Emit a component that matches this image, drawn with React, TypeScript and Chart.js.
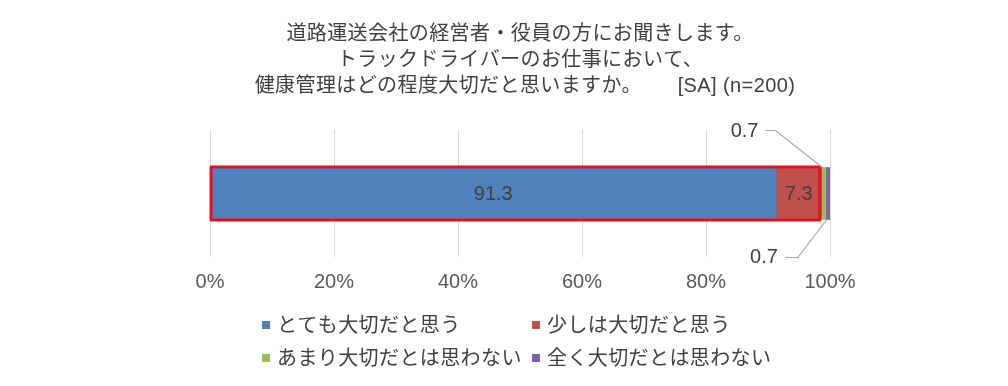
import React, { useEffect, useRef } from "react";
import { Chart, registerables } from "chart.js";

Chart.register(...registerables);

const categories = ["健康管理"];
const seriesLabels = [
  "とても大切だと思う",
  "少しは大切だと思う",
  "あまり大切だとは思わない",
  "全く大切だとは思わない",
];
const seriesValues = [91.3, 7.3, 0.7, 0.7];
const seriesColors = ["#4F81BD", "#C0504D", "#9BBB59", "#8064A2"];
const tickValues = [0, 20, 40, 60, 80, 100];
const titleLines = [
  "道路運送会社の経営者・役員の方にお聞きします。",
  "トラックドライバーのお仕事において、",
  "健康管理はどの程度大切だと思いますか。      [SA] (n=200)",
];

const FONT = '"Liberation Sans", "Noto Sans CJK JP", sans-serif';
const TEXT = "#404040";

const decorPlugin = {
  id: "decor",
  afterDatasetsDraw(chart: any) {
    const ctx = chart.ctx as CanvasRenderingContext2D;
    const metas = seriesValues.map((_, i) => chart.getDatasetMeta(i).data[0].getProps(["x", "y", "base", "height"], true));
    ctx.save();
    // red highlight around first two segments
    const m0 = metas[0];
    const m1 = metas[1];
    const top = m0.y - m0.height / 2;
    const h = m0.height;
    ctx.strokeStyle = "#E8101A";
    ctx.lineWidth = 3;
    ctx.lineJoin = "round";
    ctx.strokeRect(Math.min(m0.base, m0.x) + 0.5, top - 0.5, m1.x - Math.min(m0.base, m0.x) - 2, h + 1);

    // inside labels
    ctx.fillStyle = TEXT;
    ctx.font = `20px ${FONT}`;
    ctx.textAlign = "center";
    ctx.textBaseline = "middle";
    [0, 1].forEach((i) => {
      const m = metas[i];
      ctx.fillText(seriesValues[i].toFixed(1), (m.x + m.base) / 2, m.y + 1);
    });

    // callouts
    ctx.strokeStyle = "#A6A6A6";
    ctx.lineWidth = 1.2;
    ctx.lineJoin = "miter";
    const g = metas[2];
    const gx = (g.x + g.base) / 2;
    const gTop = g.y - g.height / 2;
    ctx.beginPath();
    ctx.moveTo(gx - 1, gTop);
    ctx.lineTo(gx - 48, gTop - 37);
    ctx.lineTo(gx - 58, gTop - 37);
    ctx.stroke();
    ctx.textAlign = "right";
    ctx.fillText(seriesValues[2].toFixed(1), gx - 65, gTop - 36);

    const p = metas[3];
    const px = (p.x + p.base) / 2;
    const pBot = p.y + p.height / 2;
    ctx.beginPath();
    ctx.moveTo(px - 1, pBot);
    ctx.lineTo(px - 30, pBot + 38);
    ctx.lineTo(px - 42, pBot + 38);
    ctx.stroke();
    ctx.fillText(seriesValues[3].toFixed(1), px - 50, pBot + 38);
    ctx.restore();
  },
  afterDraw(chart: any) {
    const ctx = chart.ctx as CanvasRenderingContext2D;
    ctx.save();
    // title
    ctx.fillStyle = TEXT;
    ctx.font = `20px ${FONT}`;
    (ctx as any).letterSpacing = "0.4px";
    ctx.textAlign = "center";
    ctx.textBaseline = "middle";
    const titleY = [34, 60, 86];
    const titleX = [520, 520, 525];
    titleLines.forEach((t, i) => ctx.fillText(t, titleX[i], titleY[i]));

    // legend
    const pos = [
      [262, 326],
      [532, 326],
      [262, 359],
      [532, 359],
    ];
    ctx.textAlign = "left";
    seriesLabels.forEach((lab, i) => {
      const [x, y] = pos[i];
      ctx.fillStyle = seriesColors[i];
      ctx.fillRect(x, y - 5, 8, 8);
      ctx.fillStyle = TEXT;
      ctx.fillText(lab, x + 15, y);
    });
    ctx.restore();
  },
};

export default function App() {
  const ref = useRef<HTMLCanvasElement | null>(null);
  useEffect(() => {
    if (!ref.current) return;
    const chart = new Chart(ref.current, {
      type: "bar",
      data: {
        labels: categories,
        datasets: seriesLabels.map((label, i) => ({
          label,
          data: [seriesValues[i]],
          backgroundColor: seriesColors[i],
          borderWidth: 0,
          barThickness: 52,
        })),
      },
      options: {
        indexAxis: "y",
        responsive: false,
        animation: false,
        devicePixelRatio: 1,
        layout: { padding: { left: 210, right: 178, top: 130, bottom: 0 } },
        plugins: {
          legend: { display: false },
          title: { display: false },
          tooltip: { enabled: false },
        },
        scales: {
          x: {
            stacked: true,
            min: 0,
            max: 100,
            afterBuildTicks: (scale: any) => {
              scale.ticks = tickValues.map((v) => ({ value: v }));
            },
            afterFit: (scale: any) => {
              scale.height = 129;
            },
            ticks: {
              callback: (v: any) => `${v}%`,
              color: "#595959",
              font: { size: 20, family: FONT },
              padding: 13,
              maxRotation: 0,
            },
            grid: { color: "#D9D9D9", drawTicks: false, lineWidth: 1 },
            border: { display: false },
          },
          y: { stacked: true, display: false },
        },
      },
      plugins: [decorPlugin],
    } as any);
    return () => chart.destroy();
  }, []);
  return (
    <div style={{ position: "fixed", left: 0, top: 0, width: 1008, height: 386, background: "#fff" }}>
      <canvas ref={ref} width={1008} height={386} style={{ width: 1008, height: 386 }} />
    </div>
  );
}
